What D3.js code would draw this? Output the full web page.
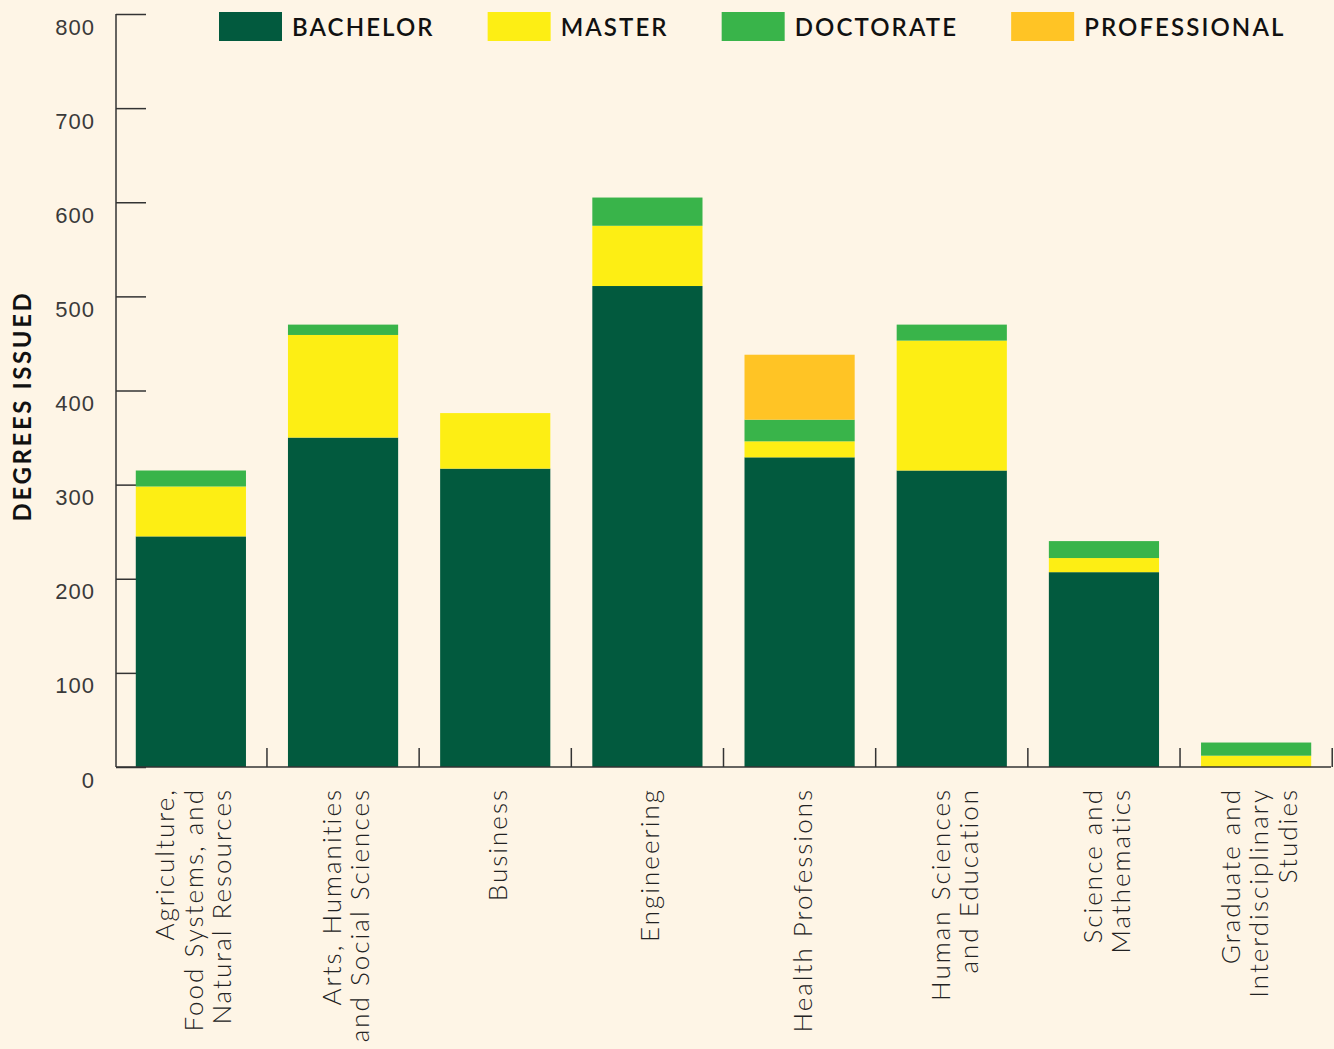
<!DOCTYPE html>
<html>
<head>
<meta charset="utf-8">
<script src="https://cdn.jsdelivr.net/npm/d3@7/dist/d3.min.js"></script>
<style>
  body { margin: 0; background: #fef5e6; }
  svg { display: block; font-family: Lato, "Open Sans", sans-serif; }
</style>
</head>
<body>
<svg id="chart" width="1334" height="1049"></svg>
<script>
// college names, one entry per line of the label
var colleges = [
  ["Agriculture,", "Food Systems, and", "Natural Resources"],
  ["Arts, Humanities", "and Social Sciences"],
  ["Business"],
  ["Engineering"],
  ["Health Professions"],
  ["Human Sciences", "and Education"],
  ["Science and", "Mathematics"],
  ["Graduate and", "Interdisciplinary", "Studies"]
];

// degrees issued per college
var bachelor     = [245, 350, 317, 511, 329, 315, 207, 0];
var master       = [53, 109, 59, 64, 17, 138, 15, 12];
var doctorate    = [17, 11, 0, 30, 23, 17, 18, 14];
var professional = [0, 0, 0, 0, 69, 0, 0, 0];

var degreeTypes = ["BACHELOR", "MASTER", "DOCTORATE", "PROFESSIONAL"];
var degreeColors = ["#025a3e", "#fdee14", "#39b44a", "#ffc425"];
var yTicks = [0, 100, 200, 300, 400, 500, 600, 700, 800];

// table for d3.stack
var table = colleges.map(function(c, i) {
  return { key: c.join(" "), BACHELOR: bachelor[i], MASTER: master[i],
           DOCTORATE: doctorate[i], PROFESSIONAL: professional[i] };
});

var svg = d3.select("#chart");

var x = d3.scaleBand()
    .domain(table.map(function(d) { return d.key; }))
    .range([116, 1331])
    .paddingInner(0.276)
    .paddingOuter(0.13);

var y = d3.scaleLinear()
    .domain([0, 800])
    .range([767, 14]);

var color = d3.scaleOrdinal().domain(degreeTypes).range(degreeColors);

// y axis (ticks point inward, drawn under the bars)
var yAxis = svg.append("g")
    .attr("transform", "translate(116,0)")
    .call(d3.axisLeft(y).tickValues(yTicks).tickSize(-30).tickSizeOuter(0).tickPadding(21));

yAxis.select(".domain").remove();
yAxis.selectAll(".tick line").attr("stroke", "#333").attr("stroke-width", 1.5);
yAxis.selectAll(".tick text")
    .attr("y", 13)
    .attr("fill", "#3a3a3a")
    .style("font-size", "22px")
    .style("font-weight", 300)
    .style("letter-spacing", "1px");

// stacked bars
var stacked = d3.stack().keys(degreeTypes)(table);

svg.append("g").selectAll("g")
    .data(stacked)
    .enter().append("g")
    .attr("fill", function(s) { return color(s.key); })
    .selectAll("rect")
    .data(function(s) { return s; })
    .enter().append("rect")
    .attr("x", function(d) { return x(d.data.key); })
    .attr("y", function(d) { return y(d[1]); })
    .attr("height", function(d) { return y(d[0]) - y(d[1]); })
    .attr("width", x.bandwidth());

// axis lines
svg.append("line")
    .attr("x1", 116).attr("x2", 116)
    .attr("y1", y(800)).attr("y2", y(0))
    .attr("stroke", "#333").attr("stroke-width", 1.5);

svg.append("line")
    .attr("x1", x.range()[0]).attr("x2", x.range()[1])
    .attr("y1", y(0)).attr("y2", y(0))
    .attr("stroke", "#333").attr("stroke-width", 1.5);

// separators between the colleges on the x axis
var halfGap = x.step() * x.paddingInner() / 2;
svg.append("g").selectAll("line")
    .data(table)
    .enter().append("line")
    .attr("x1", function(d) { return x(d.key) + x.bandwidth() + halfGap; })
    .attr("x2", function(d) { return x(d.key) + x.bandwidth() + halfGap; })
    .attr("y1", y(0) - 19)
    .attr("y2", y(0))
    .attr("stroke", "#333").attr("stroke-width", 1.5);

// rotated college labels
var lineGap = 28.5;
var labels = svg.append("g").selectAll("text")
    .data(table)
    .enter().append("text")
    .attr("transform", function(d, i) {
      var cx = x(d.key) + x.bandwidth() / 2 + 12 - (colleges[i].length - 1) * lineGap / 2;
      return "translate(" + cx + ",788) rotate(-90)";
    })
    .attr("text-anchor", "end")
    .attr("fill", "#222")
    .style("font-size", "26px")
    .style("font-weight", 300)
    .style("letter-spacing", "2px");

labels.selectAll("tspan")
    .data(function(d, i) { return colleges[i]; })
    .enter().append("tspan")
    .attr("x", 0)
    .attr("y", function(d, j) { return j * lineGap; })
    .text(function(d) { return d; });

// y axis title
svg.append("text")
    .attr("transform", "translate(31,406) rotate(-90)")
    .attr("text-anchor", "middle")
    .attr("fill", "#111")
    .style("font-size", "24px")
    .style("font-weight", 700)
    .style("letter-spacing", "2.6px")
    .text("DEGREES ISSUED");

// legend
var legendX = 219;
degreeTypes.forEach(function(k) {
  svg.append("rect")
      .attr("x", legendX).attr("y", 12)
      .attr("width", 63).attr("height", 29)
      .attr("fill", color(k));
  var t = svg.append("text")
      .attr("x", legendX + 73).attr("y", 36)
      .attr("fill", "#111")
      .style("font-size", "24px")
      .style("font-weight", 600)
      .style("letter-spacing", "2.1px")
      .text(k);
  legendX += 73 + t.node().getComputedTextLength() + 53;
});
</script>
</body>
</html>
